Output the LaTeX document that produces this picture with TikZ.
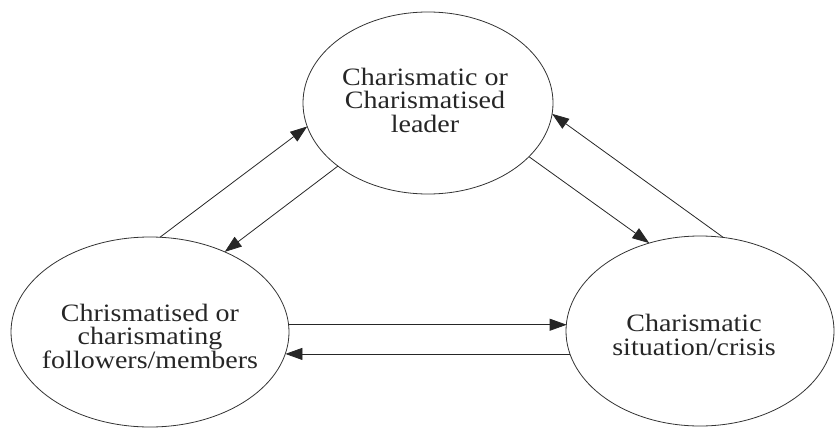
\documentclass[tikz,border=0pt]{standalone}
\usepackage{fontspec}
\setmainfont{Liberation Serif}[FakeStretch=1.12]
\usetikzlibrary{arrows.meta,shapes.geometric}
\begin{document}
\begin{tikzpicture}[x=1pt,y=-1pt,
  ell/.style={ellipse,draw=black!80,line width=0.8pt,inner sep=0pt,outer sep=0pt},
  lbl/.style={align=center,inner sep=0pt,font=\fontsize{25}{23.5}\selectfont,text=black!85},
  conn/.style={draw=black!85,line width=0.8pt,-{Triangle[length=17pt,width=12pt]}}]
\useasboundingbox (0,0) rectangle (835,428);
% ellipses
\node[ell,minimum width=250pt,minimum height=182pt] (T) at (428,103) {};
\node[ell,minimum width=278pt,minimum height=190pt] (L) at (150,332) {};
\node[ell,minimum width=268pt,minimum height=190pt] (R) at (700,331) {};
% texts
\node[lbl] (Ttext) at (425,100) {Charismatic or\\Charismatised\hspace*{10pt}\\leader};
\node[lbl] (Ltext) at (150,336) {Chrismatised or\\charismating\\followers/members};
\node[lbl] (Rtext) at (694,335) {Charismatic\\situation/crisis};
% connectors
\draw[conn] (L.84) -- (T.191.6);
\draw[conn] (T.215.8) -- (L.47.2);
\draw[conn] (T.332.1) -- (R.120.6);
\draw[conn] (R.76.3) -- (T.355.9);
\draw[conn] (L.3.72) -- (L.3.72 -| R.176.57);
\draw[conn] (R.190.48) -- (R.190.48 -| L.-9.68);
\end{tikzpicture}
\end{document}
